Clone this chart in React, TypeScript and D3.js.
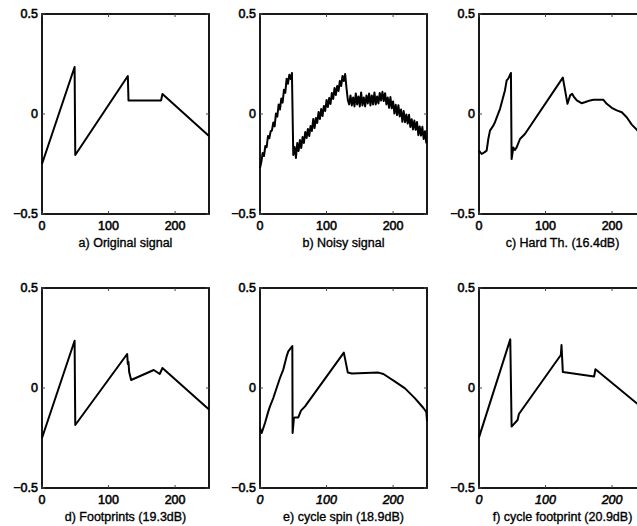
import * as d3 from "d3";

// axis ticks shared by all six panels
const xTicks = [0, 100, 200];
const yTicks = [-0.5, 0, 0.5];
const yTickLabels = ["\u22120.5", "0", "0.5"];

// a) original signal (break points)
const originalX = [0, 49, 50, 129, 130, 179, 181, 251];
const originalY = [-0.25, 0.235, -0.205, 0.19, 0.068, 0.068, 0.1, -0.11];

// b) noisy signal, one value every 2 samples
const noisyStep = 2;
const noisyY = [
  -0.27, -0.24, -0.195, -0.21, -0.16, -0.166, -0.11, -0.121, -0.087, -0.082,
  -0.042, -0.062, 0.003, -0.013, 0.047, 0.022, 0.077, 0.057, 0.121, 0.106,
  0.176, 0.151, 0.196, 0.175, 0.205, -0.205, -0.165, -0.22, -0.145, -0.185,
  -0.13, -0.17, -0.115, -0.145, -0.09, -0.12, -0.075, -0.11, -0.06, -0.085,
  -0.025, -0.07, -0.02, -0.045, 0.01, -0.025, 0.025, -0.01, 0.04, 0.015,
  0.07, 0.035, 0.08, 0.05, 0.105, 0.075, 0.13, 0.095, 0.14, 0.115,
  0.165, 0.14, 0.19, 0.165, 0.2, 0.13, 0.07, 0.048, 0.093, 0.043,
  0.083, 0.038, 0.103, 0.048, 0.088, 0.038, 0.108, 0.043, 0.083, 0.038,
  0.093, 0.053, 0.103, 0.043, 0.093, 0.048, 0.108, 0.048, 0.088, 0.053,
  0.105, 0.067, 0.111, 0.065, 0.104, 0.048, 0.082, 0.031, 0.085, 0.029,
  0.063, 0.002, 0.046, -0.005, 0.044, -0.012, 0.022, -0.039, 0.015, -0.041,
  -0.002, -0.048, -0.004, -0.065, -0.026, -0.077, -0.033, -0.079, -0.04, -0.106,
  -0.062, -0.108, -0.064, -0.125, -0.086, -0.147,
];
const noisyX = noisyY.map((_, i) => i * noisyStep);

// c) hard threshold
const hardX = [0, 4, 8, 11.5, 14, 16.5, 21.5, 24, 31.6, 39, 41.6, 44, 48, 49, 51.6, 54, 56.6, 61.6, 69, 126, 133, 137, 140, 143, 147, 154, 159, 167, 172, 187, 192, 199.5, 207, 214.6, 222, 229.6, 237, 251];
const hardY = [-0.183, -0.2, -0.192, -0.183, -0.125, -0.083, -0.058, -0.041, 0.026, 0.118, 0.168, 0.177, 0.205, -0.225, -0.167, -0.18, -0.167, -0.125, -0.1, 0.182, 0.051, 0.093, 0.101, 0.084, 0.068, 0.054, 0.059, 0.068, 0.071, 0.071, 0.051, 0.031, 0.018, 0.009, -0.016, -0.053, -0.078, -0.13];

// d) footprints
const footX = [0, 49, 50, 128, 129, 130, 131, 134, 168, 177, 181, 251];
const footY = [-0.25, 0.236, -0.185, 0.17, 0.12, 0.13, 0.08, 0.04, 0.09, 0.07, 0.1, -0.108];

// e) cycle spin
const spinX = [0, 2.5, 7.5, 12.5, 15, 20, 25, 30, 35, 40, 42.5, 48.6, 49, 51, 52.6, 57.6, 61.6, 67.7, 126, 132, 138, 178, 185.5, 203, 218, 233, 245.6, 250, 251];
const spinY = [-0.2, -0.225, -0.175, -0.117, -0.092, -0.05, 0, 0.05, 0.092, 0.158, 0.183, 0.21, -0.225, -0.15, -0.147, -0.147, -0.113, -0.092, 0.177, 0.077, 0.073, 0.077, 0.07, 0.032, -0.002, -0.052, -0.1, -0.12, -0.165];

// f) cycle footprint
const cfootX = [0, 47, 49, 58, 60, 123, 124, 126, 173, 175, 251];
const cfootY = [-0.247, 0.243, -0.193, -0.16, -0.13, 0.165, 0.215, 0.08, 0.057, 0.094, -0.115];

const captions = [
  "a) Original signal",
  "b) Noisy signal",
  "c) Hard Th. (16.4dB)",
  "d) Footprints (19.3dB)",
  "e) cycle spin (18.9dB)",
  "f) cycle footprint (20.9dB)",
];

const series = [
  [originalX, originalY],
  [noisyX, noisyY],
  [hardX, hardY],
  [footX, footY],
  [spinX, spinY],
  [cfootX, cfootY],
];

const colLeft = [42, 260, 479];
const rowTop = [14, 288];
const plotW = 167;
const plotH = 200;

const font = "'Liberation Sans', Arial, sans-serif";

function Panel({ index }: { index: number }) {
  const left = colLeft[index % 3];
  const top = rowTop[Math.floor(index / 3)];
  const x = d3.scaleLinear().domain([0, 251]).range([left, left + plotW]);
  const y = d3.scaleLinear().domain([-0.5, 0.5]).range([top + plotH, top]);
  const [xs, ys] = series[index];
  const pts = xs.map((v, i) => [v, ys[i]] as [number, number]);
  const line = d3
    .line<[number, number]>()
    .x((d) => x(d[0]))
    .y((d) => y(d[1]));
  const italicX = index >= 4;

  return (
    <g>
      <path d={line(pts) || ""} fill="none" stroke="#000" strokeWidth={2} strokeLinejoin="round" />
      <rect x={left} y={top} width={plotW} height={plotH} fill="none" stroke="#000" strokeWidth={1.8} />
      {xTicks.map((t) => (
        <g key={"xt" + t}>
          <line x1={x(t)} x2={x(t)} y1={top + plotH} y2={top + plotH - 3} stroke="#444" strokeWidth={1} />
          <line x1={x(t)} x2={x(t)} y1={top} y2={top + 3} stroke="#444" strokeWidth={1} />
          <text
            x={x(t)}
            y={top + plotH + 16}
            textAnchor="middle"
            fontFamily={font}
            fontSize={12.5}
            fontStyle={italicX ? "italic" : "normal"}
            stroke="#000"
            strokeWidth={0.55}
          >
            {t}
          </text>
        </g>
      ))}
      {yTicks.map((t, i) => (
        <g key={"yt" + t}>
          <line x1={left} x2={left + 3} y1={y(t)} y2={y(t)} stroke="#444" strokeWidth={1} />
          <line x1={left + plotW} x2={left + plotW - 3} y1={y(t)} y2={y(t)} stroke="#444" strokeWidth={1} />
          <text
            x={left - 4}
            y={y(t) + 4}
            textAnchor="end"
            fontFamily={font}
            fontSize={12.5}
            stroke="#000"
            strokeWidth={0.55}
          >
            {yTickLabels[i]}
          </text>
        </g>
      ))}
      <text
        x={left + plotW / 2}
        y={top + plotH + 33}
        textAnchor="middle"
        fontFamily={font}
        fontSize={12.5}
        stroke="#000"
        strokeWidth={0.35}
      >
        {captions[index]}
      </text>
    </g>
  );
}

export default function App() {
  return (
    <svg
      width={637}
      height={526}
      style={{ position: "absolute", left: 0, top: 0, background: "#fff" }}
    >
      <rect width={637} height={526} fill="#fff" />
      {captions.map((_, i) => (
        <Panel key={i} index={i} />
      ))}
    </svg>
  );
}
